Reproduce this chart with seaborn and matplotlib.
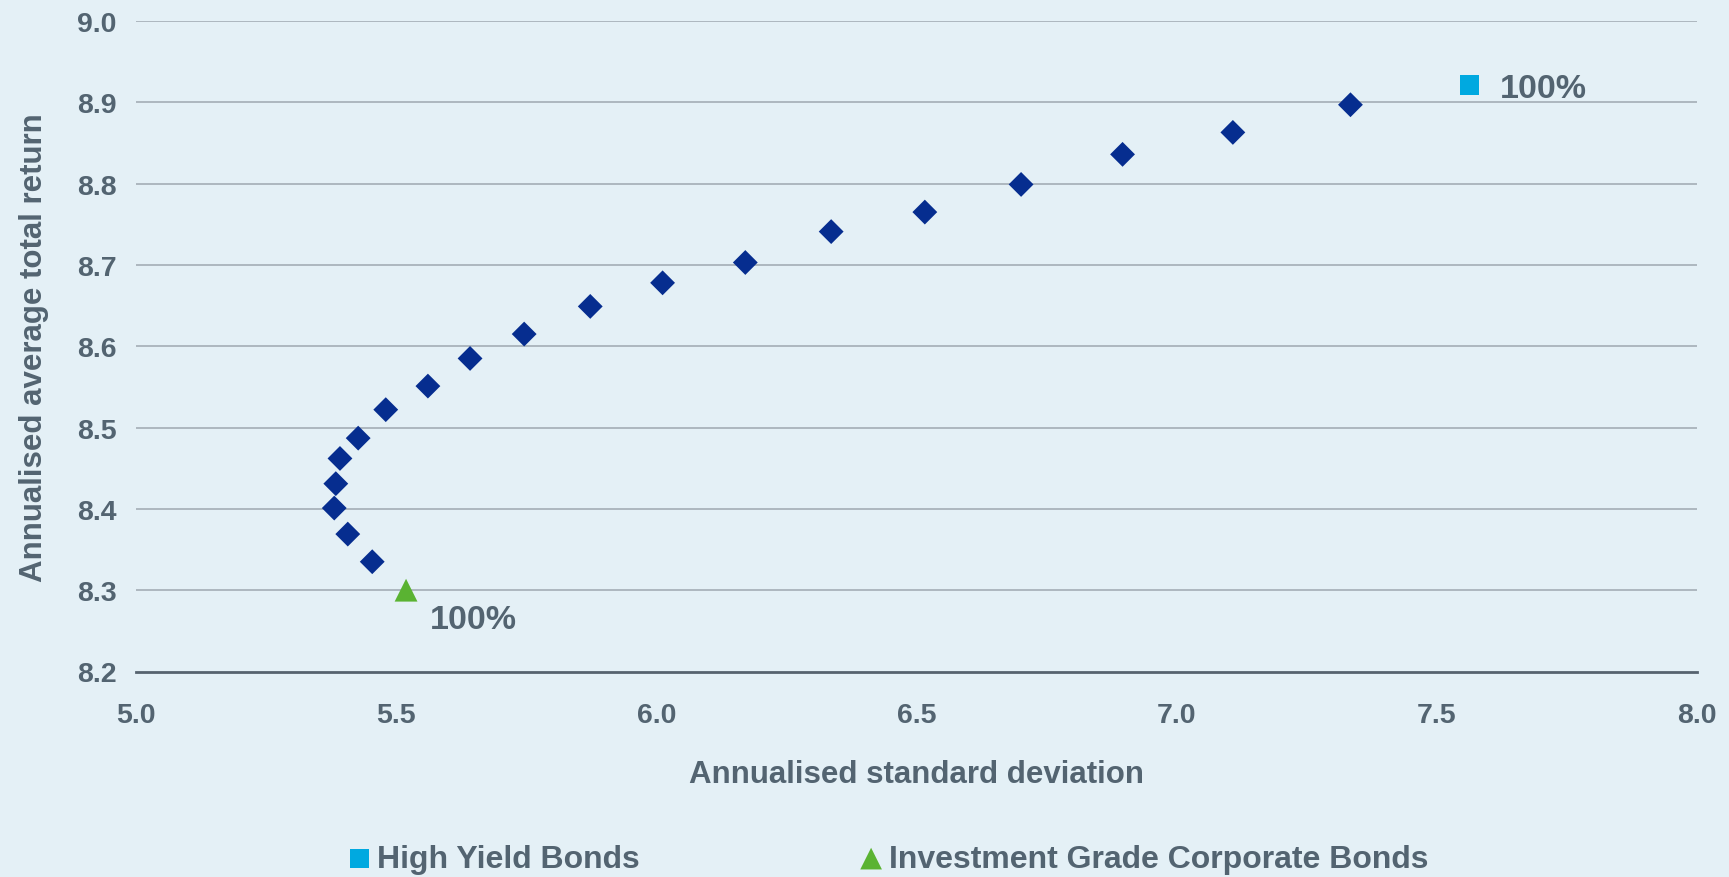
import matplotlib
matplotlib.use("Agg")
import matplotlib.pyplot as plt
import seaborn as sns
import pandas as pd

# ---- data ----
frontier_sd = [5.454, 5.407, 5.381, 5.384, 5.392, 5.427, 5.480, 5.561, 5.642, 5.746,
               5.873, 6.012, 6.171, 6.336, 6.516, 6.701, 6.896, 7.108, 7.334]
frontier_ret = [8.335, 8.369, 8.401, 8.431, 8.462, 8.487, 8.522, 8.551, 8.585, 8.615,
                8.649, 8.678, 8.703, 8.741, 8.765, 8.799, 8.836, 8.863, 8.897]
hy_sd = [7.563]
hy_ret = [8.921]
ig_sd = [5.519]
ig_ret = [8.300]
series_names = ["High Yield Bonds", "Investment Grade Corporate Bonds"]
point_label = "100%"
x_ticks = [5.0, 5.5, 6.0, 6.5, 7.0, 7.5, 8.0]
y_ticks = [8.2, 8.3, 8.4, 8.5, 8.6, 8.7, 8.8, 8.9, 9.0]
x_title = "Annualised standard deviation"
y_title = "Annualised average total return"

BG = "#E4F0F6"
TXT = "#536471"
NAVY = "#062D8F"
HYC = "#00A9E0"
IGC = "#5AB332"

sns.set_theme(style="white")
plt.rcParams['font.family'] = ['Liberation Sans', 'DejaVu Sans']
plt.rcParams['font.weight'] = 'bold'

fig = plt.figure(figsize=(17.29, 8.78), dpi=100, facecolor=BG)
ax = fig.add_axes([136/1729, 1-672.5/878, (1697-136)/1729, (672.5-22)/878])
ax.set_facecolor(BG)

df_f = pd.DataFrame({"sd": frontier_sd, "ret": frontier_ret})
df_hy = pd.DataFrame({"sd": hy_sd, "ret": hy_ret})
df_ig = pd.DataFrame({"sd": ig_sd, "ret": ig_ret})

for y in y_ticks[1:]:
    ax.axhline(y, color="#A9B3BB", lw=1.3, zorder=0)

sns.scatterplot(data=df_f, x="sd", y="ret", marker="D", s=160, color=NAVY,
                edgecolor="none", ax=ax, zorder=3, legend=False)
sns.scatterplot(data=df_hy, x="sd", y="ret", marker="s", s=200, color=HYC,
                edgecolor="none", ax=ax, zorder=3, label=series_names[0])
sns.scatterplot(data=df_ig, x="sd", y="ret", marker="^", s=270, color=IGC,
                edgecolor="none", ax=ax, zorder=3, label=series_names[1])

ax.annotate(point_label, (hy_sd[0], hy_ret[0]), xytext=(22, -2), textcoords="offset points",
            ha="left", va="center", fontsize=24.5, fontweight="bold", color=TXT)
ax.annotate(point_label, (ig_sd[0], ig_ret[0]), xytext=(17, -21), textcoords="offset points",
            ha="left", va="center", fontsize=24.5, fontweight="bold", color=TXT)

ax.set_xlim(5.0, 8.0)
ax.set_ylim(8.2, 9.0)
ax.set_xticks(x_ticks)
ax.set_yticks(y_ticks)
ax.set_xticklabels([f"{v:.1f}" for v in x_ticks])
ax.set_yticklabels([f"{v:.1f}" for v in y_ticks])
ax.tick_params(axis="both", length=0, labelsize=20.5, labelcolor=TXT)
ax.tick_params(axis="x", pad=22)
ax.tick_params(axis="y", pad=14)
for lbl in ax.get_xticklabels() + ax.get_yticklabels():
    lbl.set_fontweight("bold")

for side in ["left", "right", "top"]:
    ax.spines[side].set_visible(False)
ax.spines["bottom"].set_color("#56636F")
ax.spines["bottom"].set_linewidth(2)

ax.set_xlabel(x_title, fontsize=22.5, fontweight="bold", color=TXT, labelpad=22)
ax.set_ylabel(y_title, fontsize=22.5, fontweight="bold", color=TXT, labelpad=20)

handles, labels = ax.get_legend_handles_labels()
if ax.get_legend() is not None:
    ax.get_legend().remove()
leg = fig.legend(handles, labels, loc="center left", bbox_to_anchor=(348/1729, 1-860/878), ncol=2,
                 frameon=False, fontsize=23, handletextpad=0.2, handlelength=0.7,
                 columnspacing=6.9, borderpad=0, borderaxespad=0, markerscale=0.95)
for t in leg.get_texts():
    t.set_color(TXT)
    t.set_fontweight("bold")

fig.savefig("out.png", dpi=100, facecolor=BG)
